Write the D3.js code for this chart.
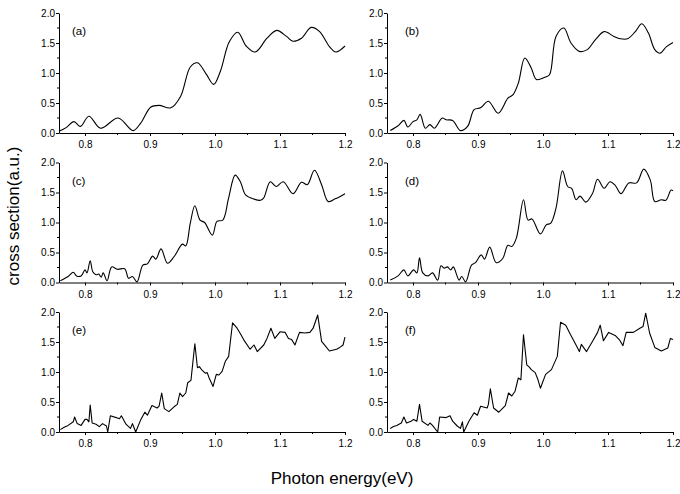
<!DOCTYPE html>
<html>
<head>
<meta charset="utf-8">
<script src="https://cdn.jsdelivr.net/npm/d3@7"></script>
<style>
  body { margin: 0; background: #fff; }
  svg { font-family: "Liberation Sans", Arial, sans-serif; }
</style>
</head>
<body>
<svg id="chart"></svg>
<script>
var width = 680,
    height = 494;

var panelLabels = ["(a)", "(b)", "(c)", "(d)", "(e)", "(f)"];
var xTicks = [0.8, 0.9, 1.0, 1.1, 1.2],
    xMinor = [0.85, 0.95, 1.05, 1.15],
    yTicks = [0.0, 0.5, 1.0, 1.5, 2.0],
    yMinor = [0.25, 0.75, 1.25, 1.75];

// [energy, cross section]
var seriesA = [[0.760,0.03],[0.771,0.09],[0.783,0.19],[0.793,0.11],[0.806,0.28],[0.824,0.08],
  [0.851,0.25],[0.874,0.04],[0.886,0.17],[0.901,0.43],[0.914,0.46],[0.932,0.42],[0.947,0.61],
  [0.962,1.10],[0.973,1.17],[0.986,0.99],[0.998,0.81],[1.008,1.02],[1.022,1.52],[1.035,1.68],
  [1.048,1.45],[1.062,1.35],[1.080,1.58],[1.095,1.71],[1.110,1.61],[1.120,1.53],[1.133,1.58],
  [1.148,1.76],[1.161,1.69],[1.176,1.44],[1.186,1.35],[1.200,1.45]];

var seriesB = [[0.765,0.04],[0.777,0.12],[0.786,0.21],[0.792,0.10],[0.800,0.19],[0.806,0.22],
  [0.811,0.31],[0.819,0.08],[0.826,0.14],[0.833,0.08],[0.845,0.25],[0.851,0.22],[0.861,0.21],
  [0.873,0.04],[0.884,0.11],[0.894,0.39],[0.904,0.42],[0.916,0.53],[0.931,0.33],[0.946,0.58],
  [0.954,0.64],[0.962,0.83],[0.972,1.25],[0.982,1.08],[0.990,0.89],[1.003,0.93],[1.010,0.97],
  [1.020,1.61],[1.032,1.75],[1.043,1.50],[1.056,1.36],[1.068,1.39],[1.081,1.56],[1.094,1.69],
  [1.109,1.61],[1.119,1.57],[1.130,1.57],[1.142,1.69],[1.152,1.82],[1.162,1.67],[1.172,1.39],
  [1.180,1.33],[1.190,1.44],[1.200,1.51]];

var seriesC = [[0.762,0.03],[0.774,0.10],[0.782,0.17],[0.787,0.11],[0.794,0.11],[0.800,0.21],
  [0.803,0.16],[0.808,0.36],[0.812,0.18],[0.817,0.13],[0.821,0.14],[0.825,0.09],[0.828,0.16],
  [0.834,0.03],[0.841,0.26],[0.850,0.22],[0.861,0.23],[0.867,0.07],[0.873,0.10],[0.880,0.01],
  [0.889,0.29],[0.896,0.31],[0.904,0.44],[0.909,0.39],[0.917,0.56],[0.927,0.32],[0.937,0.43],
  [0.950,0.64],[0.955,0.61],[0.962,0.99],[0.969,1.28],[0.977,1.04],[0.984,1.00],[0.996,0.79],
  [1.003,1.02],[1.012,1.04],[1.021,1.41],[1.031,1.79],[1.039,1.68],[1.047,1.46],[1.060,1.39],
  [1.070,1.37],[1.075,1.41],[1.085,1.68],[1.094,1.60],[1.105,1.68],[1.120,1.48],[1.133,1.67],
  [1.142,1.63],[1.153,1.87],[1.164,1.63],[1.174,1.35],[1.184,1.39],[1.192,1.43],[1.200,1.48]];

var seriesD = [[0.765,0.04],[0.777,0.11],[0.786,0.21],[0.792,0.11],[0.801,0.21],[0.806,0.16],
  [0.810,0.41],[0.815,0.16],[0.823,0.11],[0.830,0.16],[0.838,0.04],[0.843,0.28],[0.848,0.24],
  [0.853,0.26],[0.858,0.21],[0.862,0.26],[0.871,0.04],[0.875,0.10],[0.881,0.01],[0.890,0.29],
  [0.896,0.33],[0.905,0.46],[0.910,0.39],[0.918,0.59],[0.928,0.33],[0.938,0.40],[0.946,0.62],
  [0.952,0.60],[0.959,0.74],[0.970,1.38],[0.977,1.04],[0.983,1.06],[0.996,0.81],[1.005,0.96],
  [1.012,0.99],[1.020,1.24],[1.030,1.86],[1.038,1.60],[1.044,1.57],[1.051,1.38],[1.057,1.44],
  [1.066,1.34],[1.076,1.48],[1.084,1.72],[1.094,1.57],[1.103,1.68],[1.111,1.62],[1.120,1.48],
  [1.132,1.66],[1.144,1.66],[1.155,1.89],[1.165,1.71],[1.172,1.35],[1.182,1.38],[1.189,1.37],
  [1.197,1.54],[1.200,1.53]];

var seriesE = [[0.762,0.04],[0.768,0.08],[0.774,0.11],[0.782,0.17],[0.784,0.25],[0.788,0.14],
  [0.794,0.11],[0.800,0.21],[0.803,0.21],[0.806,0.17],[0.808,0.45],[0.811,0.15],[0.817,0.13],
  [0.822,0.09],[0.827,0.14],[0.833,0.10],[0.835,0.00],[0.839,0.27],[0.848,0.24],[0.853,0.22],
  [0.856,0.27],[0.863,0.13],[0.870,0.06],[0.873,0.14],[0.878,0.00],[0.886,0.21],[0.892,0.33],
  [0.896,0.28],[0.903,0.44],[0.911,0.40],[0.914,0.43],[0.918,0.65],[0.922,0.39],[0.929,0.34],
  [0.937,0.42],[0.942,0.46],[0.946,0.65],[0.950,0.59],[0.955,0.65],[0.958,0.82],[0.963,0.86],
  [0.969,1.47],[0.973,1.07],[0.976,1.09],[0.980,1.03],[0.985,0.98],[0.988,0.99],[0.991,0.90],
  [0.997,0.76],[1.002,0.96],[1.006,0.95],[1.011,1.01],[1.016,1.18],[1.021,1.26],[1.027,1.82],
  [1.034,1.73],[1.040,1.62],[1.044,1.54],[1.054,1.38],[1.060,1.45],[1.065,1.34],[1.075,1.45],
  [1.080,1.56],[1.086,1.73],[1.092,1.56],[1.100,1.67],[1.108,1.66],[1.113,1.56],[1.118,1.54],
  [1.123,1.45],[1.130,1.66],[1.138,1.65],[1.146,1.66],[1.151,1.73],[1.158,1.95],[1.164,1.51],
  [1.170,1.43],[1.176,1.35],[1.187,1.38],[1.192,1.41],[1.197,1.45],[1.200,1.58]];

var seriesF = [[0.765,0.06],[0.770,0.09],[0.775,0.11],[0.782,0.15],[0.786,0.25],[0.790,0.15],
  [0.797,0.18],[0.801,0.21],[0.806,0.18],[0.810,0.46],[0.814,0.18],[0.823,0.11],[0.826,0.15],
  [0.830,0.11],[0.838,0.00],[0.841,0.25],[0.851,0.24],[0.857,0.27],[0.861,0.18],[0.868,0.10],
  [0.873,0.06],[0.876,0.17],[0.878,0.00],[0.886,0.18],[0.894,0.32],[0.899,0.28],[0.904,0.43],
  [0.914,0.40],[0.916,0.46],[0.919,0.72],[0.924,0.40],[0.932,0.33],[0.942,0.44],[0.947,0.65],
  [0.952,0.60],[0.957,0.68],[0.962,0.90],[0.966,0.87],[0.970,1.62],[0.975,1.12],[0.979,1.08],
  [0.982,1.04],[0.988,0.99],[0.992,0.88],[0.996,0.73],[1.004,0.96],[1.013,1.04],[1.022,1.26],
  [1.027,1.83],[1.035,1.78],[1.042,1.63],[1.048,1.51],[1.056,1.34],[1.059,1.46],[1.067,1.34],
  [1.076,1.51],[1.084,1.66],[1.088,1.78],[1.093,1.52],[1.101,1.66],[1.111,1.61],[1.118,1.53],
  [1.123,1.44],[1.128,1.66],[1.139,1.66],[1.149,1.73],[1.154,1.76],[1.158,1.98],[1.164,1.65],
  [1.172,1.41],[1.182,1.35],[1.192,1.40],[1.196,1.56],[1.200,1.54]];

var allSeries = [seriesA, seriesB, seriesC, seriesD, seriesE, seriesF];

var colLeft = [59, 387],
    rowTop = [13, 162.5, 312],
    pw = 286,
    ph = 120,
    labelOff = [13, 18];

var svg = d3.select("#chart")
    .attr("width", width)
    .attr("height", height);

allSeries.forEach(function(data, i) {
    var col = i % 2,
        row = Math.floor(i / 2),
        x0 = colLeft[col],
        y0 = rowTop[row];

    var x = d3.scaleLinear().domain([0.76, 1.2]).range([x0, x0 + pw]),
        y = d3.scaleLinear().domain([0, 2]).range([y0 + ph, y0]);

    var g = svg.append("g");

    // minor ticks
    g.selectAll(".xm").data(xMinor).enter().append("line")
        .attr("x1", d => x(d)).attr("x2", d => x(d))
        .attr("y1", y0 + ph).attr("y2", y0 + ph + 2)
        .attr("stroke", "#000");
    g.selectAll(".ym").data(yMinor).enter().append("line")
        .attr("x1", x0 - 2).attr("x2", x0)
        .attr("y1", d => y(d)).attr("y2", d => y(d))
        .attr("stroke", "#000");

    var xAxis = g.append("g")
        .attr("transform", "translate(0," + (y0 + ph) + ")")
        .call(d3.axisBottom(x).tickValues(xTicks).tickFormat(d3.format(".1f"))
            .tickSize(3).tickSizeOuter(0).tickPadding(5));
    var yAxis = g.append("g")
        .attr("transform", "translate(" + x0 + ",0)")
        .call(d3.axisLeft(y).tickValues(yTicks).tickFormat(d3.format(".1f"))
            .tickSize(3).tickSizeOuter(0).tickPadding(1));

    [xAxis, yAxis].forEach(function(a) {
        a.selectAll("text").attr("font-size", 10).attr("fill", "#000")
            .attr("font-family", "'Liberation Sans', Arial, sans-serif");
        a.select(".domain").attr("stroke", "#000");
        a.selectAll(".tick line").attr("stroke", "#000");
    });

    var line = d3.line()
        .x(d => x(d[0]))
        .y(d => y(d[1]))
        .curve(i < 4 ? d3.curveCatmullRom.alpha(0.5) : d3.curveLinear);

    g.append("path")
        .datum(data)
        .attr("d", line)
        .attr("fill", "none")
        .attr("stroke", "#000")
        .attr("stroke-width", 1.1)
        .attr("stroke-linejoin", "round");

    g.append("text")
        .attr("x", x0 + labelOff[col])
        .attr("y", y0 + 22)
        .attr("font-size", 11.5)
        .text(panelLabels[i]);
});

svg.append("text")
    .attr("transform", "translate(19,216) rotate(-90)")
    .attr("text-anchor", "middle")
    .attr("font-size", 17)
    .text("cross section(a.u.)");

svg.append("text")
    .attr("x", 342)
    .attr("y", 484)
    .attr("text-anchor", "middle")
    .attr("font-size", 17)
    .text("Photon energy(eV)");
</script>
</body>
</html>
